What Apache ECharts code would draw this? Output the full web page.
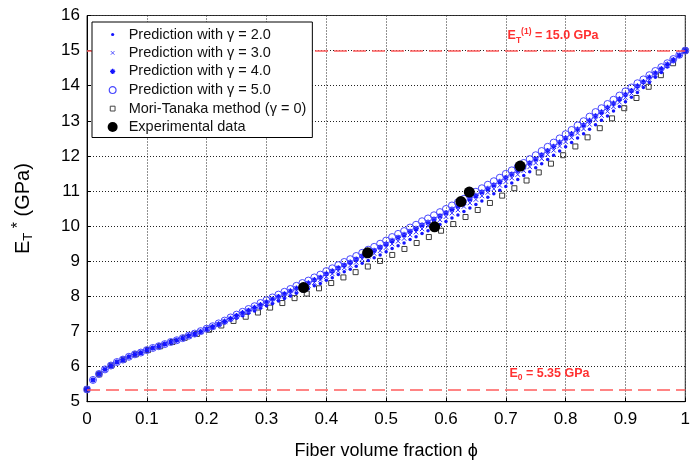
<!DOCTYPE html>
<html><head><meta charset="utf-8">
<script src="https://cdn.jsdelivr.net/npm/echarts@6/dist/echarts.min.js"></script>
<style>html,body{margin:0;padding:0;background:#fff}#c{width:693px;height:467px}</style>
</head><body><div id="c"></div>
<script>
const phiPred = [0,0.01,0.02,0.03,0.04,0.05,0.06,0.07,0.08,0.09,0.1,0.11,0.12,0.13,0.14,0.15,0.16,0.17,0.18,0.19,0.2,0.21,0.22,0.23,0.24,0.25,0.26,0.27,0.28,0.29,0.3,0.31,0.32,0.33,0.34,0.35,0.36,0.37,0.38,0.39,0.4,0.41,0.42,0.43,0.44,0.45,0.46,0.47,0.48,0.49,0.5,0.51,0.52,0.53,0.54,0.55,0.56,0.57,0.58,0.59,0.6,0.61,0.62,0.63,0.64,0.65,0.66,0.67,0.68,0.69,0.7,0.71,0.72,0.73,0.74,0.75,0.76,0.77,0.78,0.79,0.8,0.81,0.82,0.83,0.84,0.85,0.86,0.87,0.88,0.89,0.9,0.91,0.92,0.93,0.94,0.95,0.96,0.97,0.98,0.99,1];

const gamma2 = [5.35,5.62,5.79,5.92,6.03,6.13,6.20,6.28,6.35,6.40,6.47,6.53,6.58,6.64,6.70,6.75,
6.80,6.87,6.92,6.98,7.05,7.10,7.17,7.24,7.32,7.38,7.45,7.52,7.58,7.66,7.73,7.79,7.87,7.94,8.01,8.09,8.16,8.22,8.30,8.37,8.46,8.53,8.62,8.70,8.77,8.86,8.94,9.02,9.10,9.18,9.27,9.36,9.44,9.52,9.62,9.70,9.79,9.87,9.96,10.05,10.13,10.23,10.32,10.42,10.52,10.62,10.72,10.82,10.92,11.02,11.13,11.23,11.33,11.44,11.55,11.66,11.78,11.90,12.02,12.14,12.26,12.38,12.51,12.63,12.76,12.89,13.02,13.14,13.28,13.41,13.54,13.67,13.81,13.95,14.09,14.24,14.38,14.53,14.68,14.84,15.00];

const gamma3 = [5.35,5.62,5.79,5.92,6.03,6.13,6.20,6.28,6.35,6.40,6.47,6.53,6.58,6.64,6.70,6.75,
6.81,6.87,6.93,6.99,7.06,7.12,7.19,7.27,7.35,7.42,7.49,7.56,7.64,7.72,7.79,7.86,7.94,8.01,8.09,8.17,8.24,8.31,8.39,8.47,8.56,8.64,8.72,8.81,8.88,8.97,9.06,9.14,9.22,9.30,9.39,9.49,9.57,9.65,9.75,9.83,9.92,10.00,10.09,10.18,10.27,10.37,10.46,10.56,10.66,10.76,10.86,10.96,11.06,11.16,11.27,11.37,11.47,11.58,11.69,11.80,11.92,12.04,12.16,12.28,12.40,12.52,12.65,12.77,12.90,13.03,13.15,13.27,13.40,13.53,13.66,13.78,13.91,14.04,14.17,14.31,14.44,14.57,14.71,14.86,15.00];

const gamma4 = [5.35,5.62,5.79,5.92,6.03,6.13,6.20,6.28,6.35,6.40,6.47,6.53,6.58,6.64,6.70,6.75,
6.81,6.88,6.93,7.00,7.07,7.14,7.21,7.29,7.37,7.45,7.53,7.60,7.68,7.76,7.84,7.92,7.99,8.07,8.15,8.23,8.31,8.38,8.47,8.54,8.64,8.72,8.81,8.89,8.97,9.06,9.15,9.24,9.31,9.40,9.49,9.59,9.68,9.76,9.85,9.93,10.03,10.11,10.20,10.29,10.38,10.48,10.57,10.67,10.77,10.87,10.97,11.07,11.17,11.27,11.38,11.48,11.58,11.69,11.80,11.91,12.03,12.15,12.27,12.39,12.51,12.63,12.76,12.88,13.01,13.14,13.25,13.38,13.50,13.62,13.75,13.86,13.99,14.11,14.24,14.36,14.48,14.61,14.74,14.87,15.00];

const gamma5 = [5.35,5.62,5.79,5.92,6.03,6.13,6.20,6.28,6.35,6.40,6.47,6.53,6.58,6.64,6.70,6.75,
6.81,6.88,6.94,7.01,7.08,7.15,7.23,7.31,7.40,7.48,7.56,7.64,7.72,7.81,7.89,7.97,8.05,8.13,8.21,8.30,8.38,8.45,8.54,8.62,8.72,8.80,8.89,8.98,9.06,9.15,9.24,9.33,9.41,9.50,9.59,9.69,9.78,9.86,9.96,10.04,10.14,10.22,10.31,10.40,10.49,10.59,10.68,10.78,10.88,10.98,11.08,11.18,11.28,11.38,11.49,11.59,11.69,11.80,11.91,12.02,12.14,12.26,12.38,12.50,12.62,12.74,12.87,12.99,13.12,13.25,13.36,13.48,13.60,13.72,13.84,13.95,14.07,14.18,14.30,14.42,14.53,14.64,14.76,14.88,15.00];

const phiMT = [0,0.0204,0.0408,0.0612,0.0816,0.1020,0.1224,0.1429,0.1633,0.1837,0.2041,0.2245,0.2449,0.2653,0.2857,0.3061,0.3265,0.3469,0.3673,0.3878,0.4082,0.4286,0.4490,0.4694,0.4898,0.5102,0.5306,0.5510,0.5714,0.5918,0.6122,0.6327,0.6531,0.6735,0.6939,0.7143,0.7347,0.7551,0.7755,0.7959,0.8163,0.8367,0.8571,0.8776,0.8980,0.9184,0.9388,0.9592,0.9796,1.0];
const moriTanaka = [5.35,5.78,6.03,6.20,6.35,6.47,6.58,6.70,6.82,6.93,7.05,7.17,7.30,7.42,7.54,7.68,7.81,7.95,8.08,8.23,8.38,8.54,8.69,8.85,9.01,9.18,9.35,9.52,9.69,9.87,10.06,10.26,10.46,10.66,10.87,11.08,11.30,11.53,11.78,12.02,12.27,12.53,12.79,13.07,13.36,13.65,13.97,14.30,14.64,15.00];

const expPhi = [0.362,0.469,0.581,0.625,0.639,0.724];
const expE = [8.25,9.24,9.98,10.70,10.97,11.71];

const refE1 = 15.0;
const refE0 = 5.35;

const names = ['Prediction with γ = 2.0','Prediction with γ = 3.0','Prediction with γ = 4.0','Prediction with γ = 5.0','Mori-Tanaka method (γ = 0)','Experimental data'];

function pairs(xs, ys) { return xs.map((x, i) => [x, ys[i]]); }

const FONT = '"Liberation Sans", Arial, sans-serif';
const BLUE = '#1414ff';
const PATH_X = 'path://M0,0L10,10M10,0L0,10';
const PATH_STAR = 'path://M0,5L10,5M5,0L5,10M1.5,1.5L8.5,8.5M8.5,1.5L1.5,8.5';

const chart = echarts.init(document.getElementById('c'), null, {renderer: 'canvas'});
chart.setOption({
  animation: false,
  backgroundColor: '#fff',
  textStyle: {fontFamily: FONT},
  grid: {left: 87, right: -1, top: 15.5, bottom: 65.3, show: true, borderColor: '#333', borderWidth: 1, backgroundColor: 'transparent'},
  xAxis: {
    type: 'value', min: 0, max: 1, interval: 0.1,
    axisLine: {show: true, lineStyle: {color: '#000', width: 1}},
    axisTick: {show: true, inside: true, length: 4, lineStyle: {color: '#000'}},
    axisLabel: {color: '#000', fontSize: 17, fontFamily: FONT, margin: 9, formatter: v => String(Math.round(v * 10) / 10)},
    splitLine: {show: true, lineStyle: {color: '#222', type: [1, 2], width: 1}},
    name: 'Fiber volume fraction ϕ', nameLocation: 'middle', nameGap: 40,
    nameTextStyle: {color: '#000', fontSize: 18, fontFamily: FONT, lineHeight: 18}
  },
  yAxis: {
    type: 'value', min: 5, max: 16, interval: 1,
    axisLine: {show: true, lineStyle: {color: '#000', width: 1}},
    axisTick: {show: true, inside: true, length: 4, lineStyle: {color: '#000'}},
    axisLabel: {color: '#000', fontSize: 17, fontFamily: FONT, margin: 7},
    splitLine: {show: true, lineStyle: {color: '#222', type: [1, 2], width: 1}},
    name: '{a|E}{s|T}{p| *}{a| (GPa)}', nameLocation: 'middle', nameRotate: 90, nameGap: 52,
    nameTextStyle: {
      color: '#000', fontFamily: FONT,
      rich: {
        a: {fontSize: 20, lineHeight: 24, fontFamily: FONT, color: '#000'},
        s: {fontSize: 13, lineHeight: 12, verticalAlign: 'bottom', fontFamily: FONT, color: '#000'},
        p: {fontSize: 16, lineHeight: 14, verticalAlign: 'top', fontFamily: FONT, color: '#000'}
      }
    }
  },
  legend: {
    orient: 'vertical', left: 92, top: 22, zlevel: 1, z: 20,
    padding: [5, 6, 3, 13],
    itemGap: 3.4, itemWidth: 22, itemHeight: 14,
    backgroundColor: '#fff', borderColor: '#000', borderWidth: 1,
    textStyle: {fontSize: 14.5, lineHeight: 14.5, color: '#111', fontFamily: FONT},
    selectedMode: false,
    data: [
      {name: names[0], icon: 'path://M0,0M14,14M5.4,7A1.6,1.6,0,1,0,8.6,7A1.6,1.6,0,1,0,5.4,7Z', itemStyle: {color: BLUE, borderWidth: 0, opacity: 1}},
      {name: names[1], icon: 'path://M0,0M14,14M5.2,5.2L8.8,8.8M8.8,5.2L5.2,8.8', itemStyle: {color: 'transparent', borderColor: '#5050ff', borderWidth: 1, opacity: 1}},
      {name: names[2], icon: 'path://M0,0M14,14M4.4,7L9.6,7M7,4.4L7,9.6M5.2,5.2L8.8,8.8M8.8,5.2L5.2,8.8', itemStyle: {color: 'transparent', borderColor: BLUE, borderWidth: 1.3, opacity: 1}},
      {name: names[3], icon: 'path://M0,0M14,14M3.6,7A3.4,3.4,0,1,0,10.4,7A3.4,3.4,0,1,0,3.6,7Z', itemStyle: {color: 'transparent', borderColor: '#4848ff', borderWidth: 1.2, opacity: 1}},
      {name: names[4], icon: 'path://M0,0M14,14M4.6,4.6L9.4,4.6L9.4,9.4L4.6,9.4Z', itemStyle: {color: 'transparent', borderColor: '#444', borderWidth: 1, opacity: 1}},
      {name: names[5], icon: 'path://M0,0M14,14M2,7A5,5,0,1,0,12,7A5,5,0,1,0,2,7Z', itemStyle: {color: '#000', borderWidth: 0, opacity: 1}}
    ]
  },
  series: [
    {name: names[0], type: 'scatter', data: pairs(phiPred, gamma2), symbol: 'circle', symbolSize: 3.5,
     itemStyle: {color: BLUE, opacity: 1}, silent: true, emphasis: {disabled: true}},
    {name: names[1], type: 'scatter', data: pairs(phiPred, gamma3), symbol: PATH_X, symbolSize: 4.5,
     itemStyle: {color: 'transparent', borderColor: '#3030ff', borderWidth: 1, opacity: 1}, silent: true, emphasis: {disabled: true}},
    {name: names[2], type: 'scatter', data: pairs(phiPred, gamma4), symbol: PATH_STAR, symbolSize: 5.5,
     itemStyle: {color: 'transparent', borderColor: BLUE, borderWidth: 1.2, opacity: 1}, silent: true, emphasis: {disabled: true}},
    {name: names[3], type: 'scatter', data: pairs(phiPred, gamma5), symbol: 'circle', symbolSize: 7,
     itemStyle: {color: 'transparent', borderColor: '#4848ff', borderWidth: 1, opacity: 1}, silent: true, emphasis: {disabled: true}},
    {name: names[4], type: 'scatter', data: pairs(phiMT, moriTanaka), symbol: 'rect', symbolSize: 5,
     itemStyle: {color: 'transparent', borderColor: '#3a3a3a', borderWidth: 1, opacity: 1}, silent: true, emphasis: {disabled: true},
     z: 1,
     markLine: {
       silent: true, symbol: ['none', 'none'], label: {show: false},
       lineStyle: {color: '#ff5c5c', type: [13, 6], width: 1.5},
       emphasis: {disabled: true},
       data: [{yAxis: refE1}, {yAxis: refE0}]
     }},
    {name: names[5], type: 'scatter', data: pairs(expPhi, expE), symbol: 'circle', symbolSize: 11,
     itemStyle: {color: '#000', opacity: 1}, silent: true, emphasis: {disabled: true},
     markPoint: {
       silent: true, symbol: 'circle', symbolSize: 0,
       itemStyle: {color: 'transparent'},
       label: {
         show: true, position: 'right', distance: 0, color: '#ff3030',
         rich: {
           e: {fontSize: 12.5, fontWeight: 'bold', lineHeight: 18, color: '#ff3030', fontFamily: FONT},
           sub: {fontSize: 8.5, fontWeight: 'bold', lineHeight: 8, verticalAlign: 'bottom', color: '#ff3030', fontFamily: FONT},
           sup: {fontSize: 8.5, fontWeight: 'bold', lineHeight: 8, verticalAlign: 'top', color: '#ff3030', fontFamily: FONT}
         }
       },
       data: [
         {coord: [0.703, 15.42], label: {formatter: '{e|E}{sub|T}{sup|(1)}{e| = ' + refE1.toFixed(1) + ' GPa}'}},
         {coord: [0.706, 5.80], label: {formatter: '{e|E}{sub|0}{e| = ' + refE0.toFixed(2) + ' GPa}'}}
       ]
     }}
  ]
});
</script>
</body></html>
